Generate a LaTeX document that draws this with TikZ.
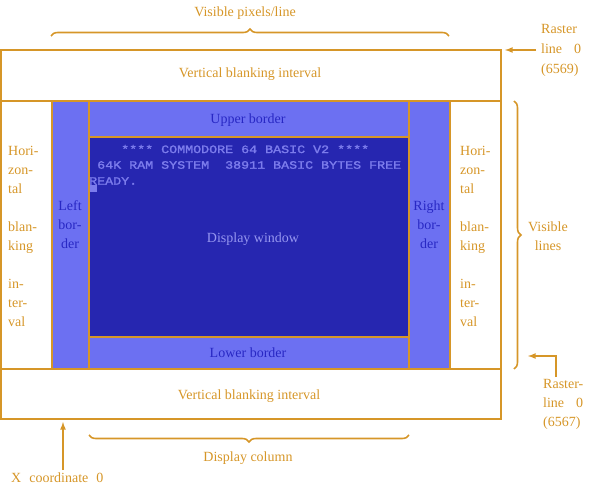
\documentclass[tikz,border=0pt]{standalone}
\usepackage{fontspec}
\setmainfont{Liberation Serif}
\newfontfamily\cbmfont{Liberation Mono}[FakeBold=1.5]
\usetikzlibrary{decorations.pathreplacing}
\definecolor{rahmen}{RGB}{214,150,40}
\definecolor{hellblau}{RGB}{108,112,242}
\definecolor{dunkelblau}{RGB}{38,38,176}
\definecolor{randtext}{RGB}{40,40,196}
\definecolor{zeichen}{RGB}{124,124,236}
\newcommand{\cbmline}[3]{
   \node[anchor=west, inner sep=0pt, text=zeichen, font=\cbmfont\fontsize{13.33}{8}\selectfont] (#1) at (#2) {\scalebox{1}[0.85]{#3}};
}
\tikzset{
   lbl/.style={text=rahmen, inner sep=0pt, align=center, font=\fontsize{14}{19}\selectfont},
   randlbl/.style={lbl, text=randtext},
   linie/.style={rahmen, line width=2.6pt},
   klammer/.style={rahmen, line width=1.6pt, decorate, decoration={brace, amplitude=7pt}},
}
\begin{document}
\begin{tikzpicture}[x=1pt, y=-1pt]
		\useasboundingbox (0,0) rectangle (600,500);

		% Areas
		\fill[hellblau] (52,101) rectangle (450,369);
		\fill[dunkelblau] (89,137) rectangle (409,337);

		% Screen text
		\cbmline{zeile1}{121,149}{****~COMMODORE~64~BASIC~V2~****}
		\cbmline{zeile2}{97,165}{64K~RAM~SYSTEM~~38911~BASIC~BYTES~FREE}
		\cbmline{zeile3}{89,181}{READY.}
		\fill[zeichen] (89.5,185) rectangle (97,192.5);

		% Lines
		\draw[linie] (1,50) rectangle (501,419);
		\draw[linie] (1,101) -- (501,101);
		\draw[linie] (1,369) -- (501,369);
		\draw[linie] (52,101) -- (52,369);
		\draw[linie] (89,101) -- (89,369);
		\draw[linie] (409,101) -- (409,369);
		\draw[linie] (450,101) -- (450,369);
		\draw[linie] (89,137) -- (409,137);
		\draw[linie] (89,337) -- (409,337);

		% Braces
		\draw[klammer] (51,36) -- (449,36);
		\draw[klammer] (409,435) -- (89,435);
		\draw[klammer] (514,101) -- (514,369);

		% Labels
		\node[lbl] (pixel) at (245,13) {Visible pixels/line};
		\node[lbl] (vbioben) at (250,74) {Vertical blanking interval};
		\node[lbl] (vbiunten) at (249,396) {Vertical blanking interval};
		\node[randlbl] (oberrand) at (248,120) {Upper border};
		\node[randlbl] (unterrand) at (248,353) {Lower border};
		\node[lbl, text=zeichen!80!white] (fenster) at (253,239) {Display window};
		\node[randlbl] (linksrand) at (70,225) {Left\\bor-\\der};
		\node[randlbl] (rechtsrand) at (429,225) {Right\\bor-\\der};
		\node[lbl, align=left, anchor=west] (hbilinks) at (8,236.5) {Hori-\\zon-\\tal\\[19pt]blan-\\king\\[19pt]in-\\ter-\\val};
		\node[lbl, align=left, anchor=west] (hbirechts) at (460,236.5) {Hori-\\zon-\\tal\\[19pt]blan-\\king\\[19pt]in-\\ter-\\val};
		\node[lbl] (zeilen) at (548,236.5) {Visible\\lines};
		\node[lbl] (spalte) at (248,458) {Display column};
		\node[lbl, align=left, anchor=west, font=\fontsize{14}{20}\selectfont] (raster) at (541,50) {Raster\\line\hspace{12pt}0\\(6569)};
		\node[lbl, align=left, anchor=west] (rasterunten) at (543,404) {Raster-\\line\hspace{12pt}0\\(6567)};
		\node[lbl, anchor=west] (xkoord) at (11,478) {X\hspace{8pt}coordinate\hspace{8pt}0};

		% Arrows
		\coordinate (rasterpfeil) at (536,50);
		\coordinate (rasterziel) at (505,50);
		\draw[rahmen, line width=1.6pt, -latex] (rasterpfeil) -- (rasterziel);
		\coordinate (xpfeil) at (63,470);
		\coordinate (xziel) at (63,422);
		\draw[rahmen, line width=1.6pt, -latex] (xpfeil) -- (xziel);
		\coordinate (untenpfeil) at (556,377);
		\coordinate (untenziel) at (528,356);
		\draw[rahmen, line width=1.6pt, -latex] (untenpfeil) |- (untenziel);
	\end{tikzpicture}
\end{document}
